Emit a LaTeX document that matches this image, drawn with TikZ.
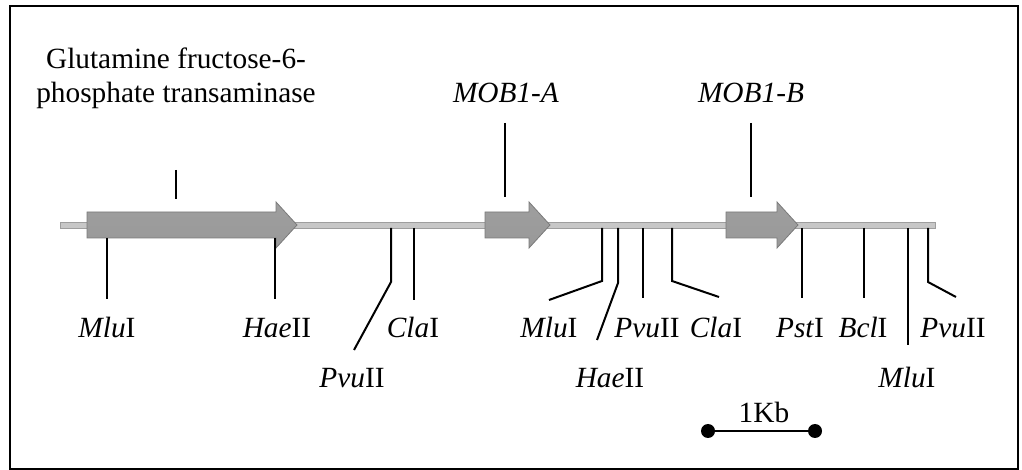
\documentclass[tikz,border=0pt]{standalone}
\usepackage{fontspec}
\setmainfont{Liberation Serif}
\begin{document}
\begin{tikzpicture}[x=0.75pt,y=-0.75pt,
  lbl/.style={anchor=base,inner sep=0pt,font=\fontsize{22}{25.5}\selectfont},
  tick/.style={line width=1.5pt,black},
  gene/.style={top color=black!38,middle color=black!27,bottom color=black!40,draw=black!52,line width=0.6pt},
  bone/.style={fill=black!22,draw=black!38,line width=0.6pt}]
\useasboundingbox (0,0) rectangle (1022,470);
\draw[line width=1.6pt] (10,6) rectangle (1018,469);
% backbone
\draw[bone] (60,222) rectangle (935,228);
% genes
\draw[gene] (87,212) -- (276,212) -- (276,202) -- (297,225) -- (276,248) -- (276,238) -- (87,238) -- cycle;
\draw[gene] (485,212) -- (529,212) -- (529,202) -- (550,225) -- (529,248) -- (529,238) -- (485,238) -- cycle;
\draw[gene] (726,212) -- (777,212) -- (777,202) -- (798,225) -- (777,248) -- (777,238) -- (726,238) -- cycle;
% gene labels
\node[lbl,align=center] (gfat) at (176,103) {Glutamine fructose-6-\\phosphate transaminase};
\node[lbl] (moba) at (506,103) {\textit{MOB1-A}};
\node[lbl] (mobb) at (751,103) {\textit{MOB1-B}};
\draw[tick] (176,170) -- (176,199);
\draw[tick] (505,123) -- (505,197);
\draw[tick] (751,123) -- (751,197);
% restriction labels
\node[lbl] (mlu1) at (107,338) {\textit{Mlu}I};
\node[lbl] (hae1) at (277,338) {\textit{Hae}II};
\node[lbl] (pvu1) at (352,388) {\textit{Pvu}II};
\node[lbl] (cla1) at (413,338) {\textit{Cla}I};
\node[lbl] (mlu2) at (549,338) {\textit{Mlu}I};
\node[lbl] (hae2) at (610,388) {\textit{Hae}II};
\node[lbl] (pvu2) at (647,338) {\textit{Pvu}II};
\node[lbl] (cla2) at (716,338) {\textit{Cla}I};
\node[lbl] (pst) at (800,338) {\textit{Pst}I};
\node[lbl] (bcl) at (863,338) {\textit{Bcl}I};
\node[lbl] (mlu3) at (907,388) {\textit{Mlu}I};
\node[lbl] (pvu3) at (953,338) {\textit{Pvu}II};
% restriction ticks
\draw[tick] (107,238) -- (107,299);
\draw[tick] (275,238) -- (275,299);
\draw[tick] (391,228) -- (391,282) -- (354,350);
\draw[tick] (414,228) -- (414,300);
\draw[tick] (602,228) -- (602,281) -- (549,300);
\draw[tick] (618,228) -- (618,283) -- (597,340);
\draw[tick] (643,228) -- (643,298);
\draw[tick] (672,228) -- (672,281) -- (719,297);
\draw[tick] (802,228) -- (802,298);
\draw[tick] (864,228) -- (864,298);
\draw[tick] (908,228) -- (908,345);
\draw[tick] (928,228) -- (928,282) -- (956,297);
% scale bar
\coordinate (sa) at (708,431);
\coordinate (sb) at (815,431);
\draw[line width=1.5pt] (sa) -- (sb);
\fill (sa) circle (7);
\fill (sb) circle (7);
\node[lbl] (kb) at (764,423) {1Kb};
\end{tikzpicture}
\end{document}
